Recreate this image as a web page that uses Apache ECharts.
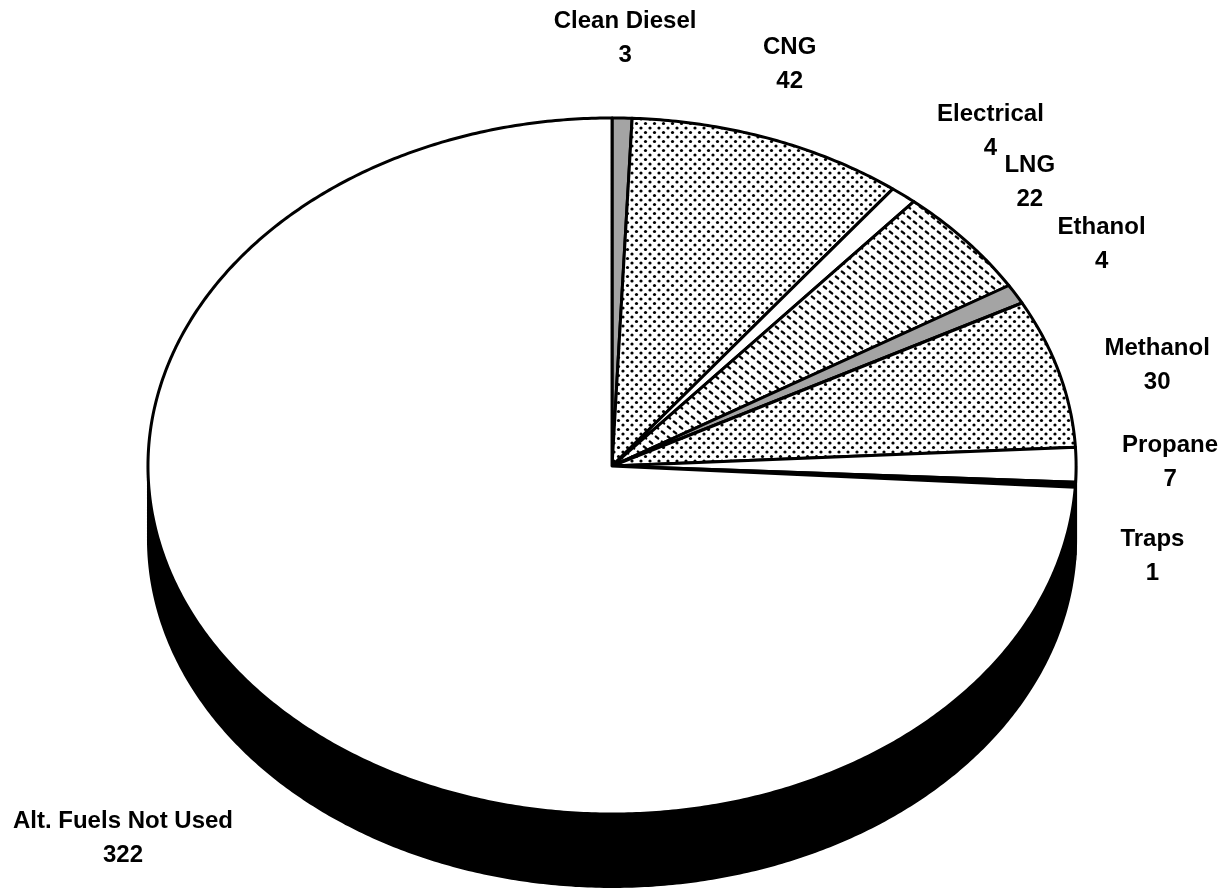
<!DOCTYPE html>
<html>
<head>
<meta charset="utf-8">
<script src="https://cdn.jsdelivr.net/npm/echarts@6/dist/echarts.min.js"></script>
<style>
  html, body { margin: 0; padding: 0; background: #ffffff; }
  #chart { width: 1228px; height: 889px; }
</style>
</head>
<body>
<div id="chart"></div>
<script>
// Fuel types, in clockwise order from 12 o'clock
const categories = ['Clean Diesel', 'CNG', 'Electrical', 'LNG', 'Ethanol', 'Methanol', 'Propane', 'Traps', 'Alt. Fuels Not Used'];
// Number of respondents per fuel type
const counts = [3, 42, 4, 22, 4, 30, 7, 1, 322];
// Fill style of each slice
const fillKinds = ['gray', 'dots', 'white', 'dashes', 'gray', 'dots', 'white', 'black', 'white'];
// Label offsets (px) from the slice's outer edge at its mid angle
const labelNudge = [[3, -80], [20, -74], [87, -64], [64, -58], [86, -50], [98, -8], [94, -2], [77, 72], [-151, 134]];

// Tilted-disc geometry, as fractions of the canvas
const GEOM = { cx: 0.4984, cy: 0.5242, rx: 0.3779, ry: 0.3915, depth: 0.082 };
const FONT = 'bold 24px "Liberation Sans", Arial, Helvetica, sans-serif';

function makeTile(kind) {
  const c = document.createElement('canvas');
  const ctx = c.getContext('2d');
  if (kind === 'dots') {
    c.width = 9; c.height = 9;
    ctx.fillStyle = '#fff'; ctx.fillRect(0, 0, 9, 9);
    ctx.fillStyle = '#000';
    [[2, 2], [6.5, 6.5]].forEach(function (p) {
      ctx.beginPath(); ctx.arc(p[0], p[1], 1.6, 0, Math.PI * 2); ctx.fill();
    });
  } else {
    // short slanted dashes in staggered rows
    c.width = 12; c.height = 10;
    ctx.fillStyle = '#fff'; ctx.fillRect(0, 0, 12, 10);
    ctx.strokeStyle = '#000'; ctx.lineWidth = 2.4; ctx.lineCap = 'round';
    [[3, 2.5], [9, 7.5]].forEach(function (p) {
      ctx.beginPath(); ctx.moveTo(p[0] - 1.1, p[1] - 0.9); ctx.lineTo(p[0] + 1.1, p[1] + 0.9); ctx.stroke();
    });
  }
  return c;
}

const dotTile = makeTile('dots');
const dashTile = makeTile('dashes');

function fillFor(kind) {
  if (kind === 'dots') return { image: dotTile, repeat: 'repeat' };
  if (kind === 'dashes') return { image: dashTile, repeat: 'repeat' };
  if (kind === 'gray') return '#a4a4a4';
  if (kind === 'black') return '#000000';
  return '#ffffff';
}

const total = counts.reduce(function (a, b) { return a + b; }, 0);
const starts = [];
counts.reduce(function (acc, v, i) { starts[i] = acc; return acc + v; }, 0);

function geom(api) {
  const w = api.getWidth(), h = api.getHeight();
  return { cx: GEOM.cx * w, cy: GEOM.cy * h, rx: GEOM.rx * w, ry: GEOM.ry * h, depth: GEOM.depth * h };
}

// Angle in degrees, clockwise from 12 o'clock
function rimPoint(g, deg, dy) {
  const a = deg * Math.PI / 180;
  return [g.cx + g.rx * Math.sin(a), g.cy - g.ry * Math.cos(a) + (dy || 0)];
}

function arc(g, a0, a1, dy) {
  const n = Math.max(2, Math.ceil(Math.abs(a1 - a0) * 2));
  const pts = [];
  for (let k = 0; k <= n; k++) pts.push(rimPoint(g, a0 + (a1 - a0) * k / n, dy));
  return pts;
}

function sliceAngles(i) {
  const v = counts[i];
  const a0 = starts[i] / total * 360;
  const a1 = (starts[i] + v) / total * 360;
  return [a0, a1];
}

const data = categories.map(function (name, i) { return { name: name, value: counts[i] }; });

const chart = echarts.init(document.getElementById('chart'), null, { renderer: 'canvas' });

chart.setOption({
  backgroundColor: '#ffffff',
  animation: false,
  series: [
    {
      // Visible rim of the disc (front half only)
      type: 'custom',
      coordinateSystem: 'none',
      silent: true,
      z: 1,
      data: data,
      renderItem: function (params, api) {
        const g = geom(api);
        const ang = sliceAngles(params.dataIndex);
        const s = Math.max(ang[0], 90), e = Math.min(ang[1], 270);
        if (e <= s) return { type: 'group', children: [] };
        const top = arc(g, s, e, 0);
        const bottom = arc(g, e, s, g.depth);
        return {
          type: 'polygon',
          shape: { points: top.concat(bottom) },
          style: { fill: '#000000', stroke: '#000000', lineWidth: 2 }
        };
      }
    },
    {
      // Top face slices and their labels
      type: 'custom',
      coordinateSystem: 'none',
      silent: true,
      z: 2,
      data: data,
      renderItem: function (params, api) {
        const i = params.dataIndex;
        const g = geom(api);
        const ang = sliceAngles(i);
        const pts = [[g.cx, g.cy]].concat(arc(g, ang[0], ang[1], 0));
        const mid = rimPoint(g, (ang[0] + ang[1]) / 2, 0);
        const nudge = labelNudge[i];
        return {
          type: 'group',
          children: [
            {
              type: 'polygon',
              shape: { points: pts },
              style: { fill: fillFor(fillKinds[i]), stroke: '#000000', lineWidth: 3, lineJoin: 'round' }
            },
            {
              type: 'text',
              style: {
                text: categories[i] + '\n' + api.value(0),
                x: mid[0] + nudge[0],
                y: mid[1] + nudge[1],
                align: 'center',
                verticalAlign: 'middle',
                font: FONT,
                lineHeight: 34,
                fill: '#000000'
              }
            }
          ]
        };
      }
    }
  ]
});
</script>
</body>
</html>
